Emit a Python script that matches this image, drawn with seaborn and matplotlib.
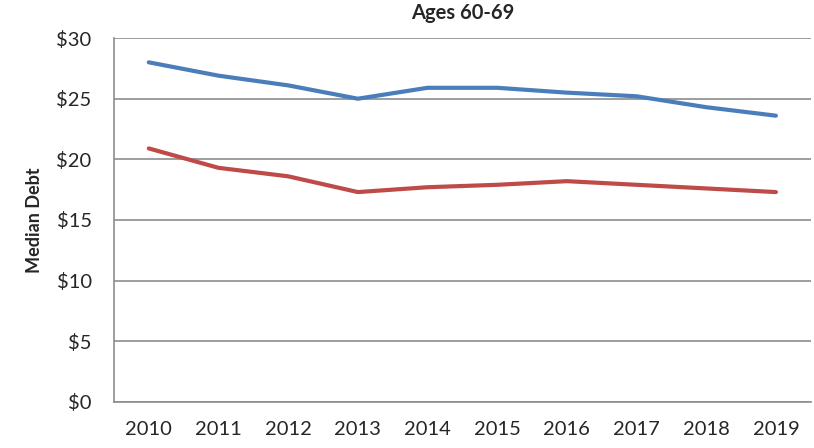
import numpy as np
import pandas as pd
import matplotlib
matplotlib.use("Agg")
import matplotlib.pyplot as plt
import seaborn as sns

years = [2010, 2011, 2012, 2013, 2014, 2015, 2016, 2017, 2018, 2019]
series_a = [28.0, 26.9, 26.1, 25.0, 25.9, 25.9, 25.5, 25.2, 24.3, 23.6]
series_b = [20.9, 19.3, 18.6, 17.3, 17.7, 17.9, 18.2, 17.9, 17.6, 17.3]
yticks = [0, 5, 10, 15, 20, 25, 30]

sns.set_style("white")
plt.rcParams['font.family'] = ['Lato', 'DejaVu Sans']

df = pd.DataFrame({
    "pos": list(range(len(years))) * 2,
    "debt": series_a + series_b,
    "series": ["a"] * len(years) + ["b"] * len(years),
})

fig = plt.figure(figsize=(8.14, 4.48), dpi=100)
ax = fig.add_axes([0.140, 0.103, 0.856, 0.812])

sns.lineplot(data=df, x="pos", y="debt", hue="series",
             palette={"a": "#4A7EBB", "b": "#BE4B48"},
             linewidth=3, legend=False, ax=ax, solid_capstyle="round")

ax.set_xlim(-0.5, len(years) - 0.5)
ax.set_ylim(0, 30)
ax.set_yticks(yticks)
ax.set_yticklabels([f"${v}" for v in yticks], fontsize=14.5)
ax.set_xticks(range(len(years)))
ax.set_xticklabels([str(y) for y in years], fontsize=14.5)
ax.set_xticks(np.arange(-0.5, len(years)), minor=True)
ax.tick_params(axis="x", which="major", length=0, pad=14)
ax.tick_params(axis="x", which="minor", length=5, color="#8c8c8c", width=1.2, direction="out")
ax.tick_params(axis="y", length=6, color="#8c8c8c", width=1.2, direction="out", pad=10)

ax.grid(axis="y", color="#8c8c8c", linewidth=1.2)
ax.set_axisbelow(True)
for s in ["top", "right"]:
    ax.spines[s].set_visible(False)
for s in ["left", "bottom"]:
    ax.spines[s].set_color("#8c8c8c")
    ax.spines[s].set_linewidth(1.2)

ax.set_xlabel("")
ax.set_ylabel("Median Debt", fontsize=13, fontweight="bold", labelpad=10)
ax.set_title("Ages 60-69", fontsize=14.5, fontweight="bold", pad=14)

fig.savefig("out.png", dpi=100)
